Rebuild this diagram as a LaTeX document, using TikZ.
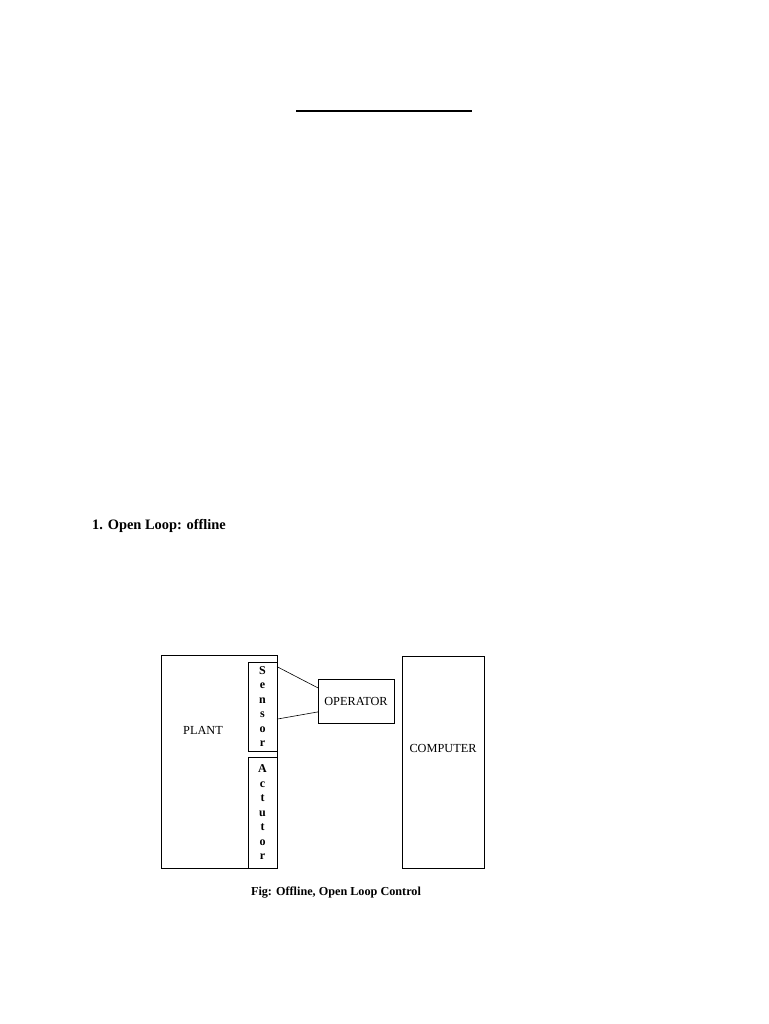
\documentclass[tikz,border=0pt]{standalone}
\usepackage{fontspec}
\setmainfont{Liberation Serif}
\begin{document}
\begin{tikzpicture}[x=1pt,y=-1pt,
  box/.style={draw,rectangle,line width=0.8pt,outer sep=0pt,inner sep=0pt},
  letters/.style={box,align=center,font=\fontsize{12}{14.5}\selectfont\bfseries}]
\useasboundingbox (0,0) rectangle (768,1024);
\draw[line width=1.8pt] (296,111) -- (472,111);
\node[anchor=base west,inner sep=0pt,font=\fontsize{14.4}{16}\selectfont\bfseries] (head) at (92,529) {1. Open Loop: offline};
% blocks
\node[box,minimum width=116,minimum height=213] (plant) at (219,761.5) {};
\node[font=\fontsize{12.3}{14}\selectfont] (plantlbl) at (203,730) {PLANT};
\node[letters,minimum width=29,minimum height=89] (sensor) at (262.5,706.5) {S\\e\\n\\s\\o\\r};
\node[letters,minimum width=29,minimum height=111] (actuator) at (262.5,812.5) {A\\c\\t\\u\\t\\o\\r};
\node[box,minimum width=76,minimum height=44,font=\fontsize{12.3}{14}\selectfont] (operator) at (356,701) {OPERATOR};
\node[box,minimum width=82,minimum height=212,font=\fontsize{12.3}{14}\selectfont] (computer) at (443,762) {};
\node[font=\fontsize{12.3}{14}\selectfont] (complbl) at (443,748) {COMPUTER};
\draw[line width=0.6pt] (sensor.70) -- (operator.161);
\draw[line width=0.6pt] (sensor.-41) -- (operator.196);
\node[font=\fontsize{12.2}{14}\selectfont\bfseries] (caption) at (336,893) {Fig: Offline, Open Loop Control};
\end{tikzpicture}
\end{document}
